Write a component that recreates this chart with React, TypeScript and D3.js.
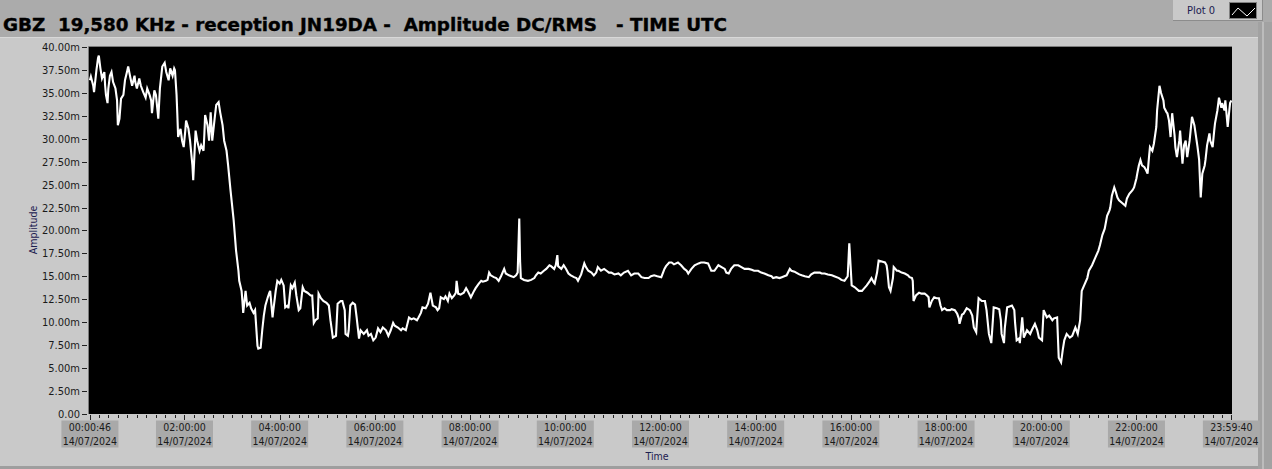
import React from "react";
import * as d3 from "d3";

// ---- data: amplitude (mV) vs time (minutes after 00:00 UTC, 14/07/2024) ----
const segNight: [number, number][] = [
  [0.77,36.4],[2,36.8],[5,35.8],[6,35.1],[9,37.5],[11,38.8],[12,39.1],[14,37.7],[16,36.6],[19,37.3],[20,35.8],[21,34.8],[23,33.9],[24,35.5],[26,36.9],[28,37.3],[30,36.2],[33,35.5],[35,34.2],[36,31.5],[38,32.2],[40,34.4],[43,34.8],[45,36.4],[48,37.5],[49,37.9],[52,36.6],[54,35.8],[57,36.9],[58,36.2],[60,35.5],[63,36.6],[65,35.8],[68,35.1],[71,34.5],[73,35.5],[76,34.8],[78,34.2],[79,32.8],[82,35.3],[84,34.8],[87,32.2],[89,35.5],[92,37.9],[95,38.3],[97,37.3],[100,36.4],[102,37.7],[105,36.9],[107,37.7],[108,37.5],[110,34.8],[111,32.6],[112,30.2],[115,31.1],[117,29.8],[119,29.1],[121,30.9],[122,32.0],[125,31.1],[127,29.8],[130,27.1],[131,25.5],[134,30.9],[136,29.8],[139,28.7],[141,29.3],[144,28.7],[145,30.4],[146,32.6],[149,31.5],[151,29.8],[153,32.9],[155,29.8],[158,32.2],[160,33.7],[163,34.0],[165,32.9],[168,31.5],[170,29.8],[173,28.7],[175,27.1],[178,24.4],[182,21.1],[185,17.8],[188,15.6],[189,14.5],[192,13.4],[193,12.3],[194,11.0],[197,13.4],[199,11.8],[202,12.1],[204,11.5],[207,11.0],[209,11.3],[212,7.4],[213,7.1],[216,7.2],[218,9.1],[220,10.7],[222,11.8],[225,12.7],[227,13.2],[228,13.4],[231,10.5],[232,11.3],[235,13.4],[237,14.5],
];
const segMorning: [number, number][] = [
  [240,14.2],[242,14.6],[245,14.0],[247,11.6],[250,11.8],[251,11.5],[254,14.0],[256,13.7],[259,14.3],[261,12.9],[264,11.3],[266,11.5],[269,13.8],[271,13.4],[275,13.2],[279,12.9],[281,12.9],[283,9.9],[285,10.2],[288,10.4],[289,13.1],[292,12.6],[295,12.3],[299,12.1],[302,11.8],[304,10.2],[307,8.3],[311,8.5],[313,12.0],[317,12.3],[319,12.3],[322,11.3],[323,8.7],[326,8.5],[327,9.1],[329,11.8],[332,12.1],[335,11.9],[337,10.5],[340,8.2],[342,9.1],[346,8.7],[350,9.1],[352,8.5],[355,8.7],[358,8.0],[361,8.3],[364,9.3],[367,8.9],[370,9.4],[374,9.1],[377,8.5],[380,9.1],[383,9.9],[385,9.6],[389,9.4],[393,9.1],[395,9.3],[399,9.1],[403,10.5],[406,10.3],[409,10.4],[413,10.2],[415,10.5],[418,11.0],[420,11.6],[424,11.5],[427,12.0],[430,13.2],[433,11.8],[437,11.6],[439,11.3],[441,11.5],[443,12.7],[447,12.5],[449,12.8],[452,12.3],[454,13.1],[457,12.6],[460,12.9],[462,13.2],[463,14.5],[465,13.1],[468,13.0],[472,13.2],[475,13.7],[477,13.4],
];
const segDay: [number, number][] = [
  [481,12.7],[485,13.4],[487,13.7],[491,14.2],[494,14.5],[496,14.4],[500,14.5],[502,14.6],[504,15.4],[506,15.1],[510,14.9],[513,14.8],[516,14.5],[519,15.0],[523,15.8],[525,15.3],[529,15.1],[532,15.0],[535,14.9],[538,15.1],[540,15.4],[542,21.3],[543,16.7],[544,14.8],[548,14.6],[553,14.5],[557,14.6],[561,14.8],[563,15.1],[566,15.4],[569,15.3],[573,15.6],[576,15.8],[580,16.2],[582,16.1],[586,15.8],[588,16.2],[590,17.3],[591,16.1],[595,15.8],[598,16.2],[601,15.8],[604,15.3],[607,15.1],[611,14.9],[614,14.8],[616,14.5],[620,15.2],[624,16.4],[626,16.0],[629,15.6],[633,15.4],[636,15.1],[639,15.4],[641,16.0],[645,15.6],[649,15.8],[652,15.6],[655,15.4],[658,15.4],[662,15.2],[667,15.3],[670,15.1],[674,15.4],[679,15.6],[683,15.1],[687,15.3],[692,15.3],[696,14.9],[700,14.8],[705,14.8],[708,15.0],[712,15.1],[716,15.0],[721,14.9],[725,15.8],[727,16.1],[731,16.5],[734,16.5],[737,16.3],[742,16.5],[746,16.2],[750,15.8],[753,15.6],[755,15.3],[759,15.8],[763,16.2],[768,16.4],[771,16.5],[775,16.5],[780,16.4],[784,15.6],[788,15.6],[793,16.2],[797,16.0],[801,15.8],[803,15.4],[806,15.3],[809,15.8],[813,16.2],[818,16.2],[822,16.0],[826,15.8],[831,15.8],[835,15.7],
];
const segAfternoon: [number, number][] = [
  [838,15.6],[843,15.6],[847,15.4],[851,15.3],[856,15.1],[860,15.0],[862,14.8],[866,14.9],[870,14.8],[873,14.9],[876,15.0],[879,15.1],[883,15.8],[885,15.6],[889,15.5],[891,15.4],[895,15.2],[898,15.1],[902,15.0],[907,14.9],[910,15.2],[914,15.4],[918,15.4],[921,15.4],[923,15.3],[927,15.3],[931,15.2],[936,15.1],[939,15.0],[945,14.8],[948,14.6],[952,14.5],[956,15.0],[958,18.6],[960,15.6],[961,14.0],[965,13.8],[970,13.4],[974,13.4],[977,13.7],[980,14.0],[984,14.5],[986,14.8],[989,14.3],[990,14.2],[993,15.4],[995,16.7],[999,16.6],[1003,16.5],[1005,16.2],[1006,15.6],[1008,13.8],[1010,13.4],[1013,14.8],[1014,16.0],[1018,15.6],[1020,15.6],[1024,15.4],[1028,15.3],[1032,15.1],[1034,14.9],[1037,14.8],[1038,14.5],[1039,12.3],[1042,12.9],[1046,13.2],[1049,13.1],[1053,13.1],[1056,12.9],[1058,12.7],[1059,11.6],[1062,12.3],[1065,12.7],[1068,12.6],[1071,12.6],[1073,11.8],[1075,11.3],[1078,11.5],[1081,11.3],[1085,11.3],[1087,11.4],[1091,11.3],[1094,10.9],[1096,10.4],[1097,9.8],[1100,10.8],[1102,10.9],[1106,11.5],[1110,11.3],[1113,10.7],[1115,9.4],[1118,8.9],[1119,10.2],[1121,12.6],[1125,12.3],[1129,12.3],[1131,11.3],[1134,8.7],[1137,7.7],[1139,10.2],[1140,11.6],[1144,11.5],[1147,11.4],[1149,10.2],[1150,8.7],[1153,7.7],[1154,9.3],[1157,11.6],[1160,11.7],[1163,11.8],[1166,11.3],[1167,9.9],[1169,8.0],[1172,8.2],[1173,7.7],[1176,10.5],[1178,8.3],[1182,9.1],[1186,8.7],[1188,9.1],[1192,9.8],[1195,9.1],[1197,8.3],
];
const segEvening: [number, number][] = [
  [1201,8.0],[1203,11.3],[1207,10.5],[1210,10.7],[1214,10.2],[1216,10.4],[1220,10.5],[1222,6.1],[1225,5.6],[1227,6.9],[1229,8.0],[1232,8.7],[1236,8.3],[1239,8.5],[1243,9.4],[1246,8.7],[1249,10.2],[1251,13.4],[1255,14.2],[1258,14.8],[1260,15.6],[1264,16.2],[1268,17.0],[1272,17.8],[1274,18.4],[1277,19.5],[1280,20.2],[1283,21.6],[1286,22.2],[1287,22.5],[1289,23.8],[1292,24.7],[1294,24.2],[1296,23.6],[1298,23.3],[1302,23.0],[1306,22.7],[1308,23.5],[1311,24.0],[1315,24.4],[1317,24.7],[1320,25.7],[1321,26.2],[1323,27.1],[1325,27.7],[1327,27.1],[1330,26.9],[1332,26.6],[1334,26.2],[1336,28.2],[1337,29.1],[1340,28.7],[1342,29.5],[1345,31.3],[1346,33.1],[1349,35.8],[1351,35.0],[1354,34.2],[1355,33.4],[1358,32.9],[1359,32.8],[1361,32.0],[1363,30.2],[1365,32.8],[1368,30.4],[1369,29.1],[1371,28.0],[1374,29.8],[1375,30.9],[1378,27.3],[1380,29.3],[1382,29.8],[1384,28.0],[1387,29.8],[1390,32.4],[1393,31.5],[1394,30.9],[1397,29.1],[1399,27.7],[1401,23.6],[1403,26.2],[1406,27.1],[1407,27.7],[1409,29.3],[1412,30.6],[1413,29.8],[1416,29.1],[1418,30.9],[1419,31.7],[1422,33.1],[1424,34.5],[1427,33.4],[1428,33.9],[1431,33.1],[1432,34.2],[1435,31.3],[1437,33.1],[1438,33.9],[1439.67,34.2],
];

const xStart = 0.7667; // 00:00:46
const xEnd = 1439.667; // 23:59:40
const xMajorTicks = [0.7667, 120, 240, 360, 480, 600, 720, 840, 960, 1080, 1200, 1320, 1439.667];
const xMajorLabels = ["00:00:46", "02:00:00", "04:00:00", "06:00:00", "08:00:00", "10:00:00", "12:00:00", "14:00:00", "16:00:00", "18:00:00", "20:00:00", "22:00:00", "23:59:40"];
const dateLabel = "14/07/2024";
const yTicks = [0, 2.5, 5, 7.5, 10, 12.5, 15, 17.5, 20, 22.5, 25, 27.5, 30, 32.5, 35, 37.5, 40];
const titleText = "GBZ  19,580 KHz - reception JN19DA -  Amplitude DC/RMS   - TIME UTC";

const FONT = "Tahoma, 'DejaVu Sans Condensed', 'Liberation Sans', sans-serif";

export default function App() {
  const W = 1272, H = 469;
  const plotL = 89, plotR = 1232, plotT = 47, plotB = 414;
  const x = d3.scaleLinear().domain([xStart, xEnd]).range([89.9, 1231.4]);
  const y = d3.scaleLinear().domain([0, 40]).range([413.6, 47.3]);
  const data = [...segNight, ...segMorning, ...segDay, ...segAfternoon, ...segEvening];
  const line = d3.line<[number, number]>().x(d => x(d[0])).y(d => y(d[1]));
  const minor = d3.range(12, 1440, 12).filter(m => m % 120 !== 0);

  return (
    <svg width={W} height={H} style={{ position: "absolute", left: 0, top: 0 }} fontFamily={FONT}>
      <rect x={0} y={0} width={W} height={H} fill="#ababab" />
      {/* main panel */}
      <rect x={0} y={37} width={1258} height={429} fill="#c9c9c9" />
      <line x1={0} y1={37.5} x2={1258} y2={37.5} stroke="#d8d8d8" />
      {/* right strip */}
      <rect x={1258} y={22} width={14} height={H - 22} fill="#a2a2a2" />
      <rect x={1262} y={22} width={2} height={H - 22} fill="#bcbcbc" />
      {/* bottom strip */}
      <rect x={0} y={466} width={1258} height={3} fill="#9e9e9e" />
      {/* legend */}
      <rect x={1173} y={0} width={89} height={20} fill="#c9c9c9" />
      <line x1={1173} y1={20.5} x2={1262} y2={20.5} stroke="#8c8c8c" />
      <line x1={1262.5} y1={0} x2={1262.5} y2={21} stroke="#8c8c8c" />
      <text x={1187} y={14} fontSize={11} fill="#1c2050">Plot 0</text>
      <rect x={1229.5} y={2.5} width={27} height={16} fill="#000" stroke="#808080" />
      <polyline points="1232,15 1238,8 1247,16 1255,8" fill="none" stroke="#fff" strokeWidth={1} />
      {/* title */}
      <text x={3} y={30.5} fontSize={18} fontWeight="bold" fill="#000" stroke="#000" strokeWidth={0.35} textLength={724} lengthAdjust="spacingAndGlyphs" style={{ whiteSpace: "pre" }}>{titleText}</text>
      {/* plot area */}
      <rect x={plotL} y={plotT} width={plotR - plotL} height={plotB - plotT} fill="#000" />
      <line x1={plotL - 0.5} y1={plotT - 0.5} x2={plotR} y2={plotT - 0.5} stroke="#7c7c7c" />
      <line x1={plotL - 0.5} y1={plotT - 0.5} x2={plotL - 0.5} y2={plotB} stroke="#7c7c7c" />
      <defs>
        <clipPath id="pc"><rect x={plotL} y={plotT} width={plotR - plotL} height={plotB - plotT} /></clipPath>
      </defs>
      <path d={line(data) || ""} fill="none" stroke="#fff" strokeWidth={2.1} strokeLinejoin="miter" clipPath="url(#pc)" />
      {/* y axis */}
      {yTicks.map(t => (
        <g key={"y" + t}>
          <line x1={82} x2={87} y1={Math.round(y(t)) + 0.5} y2={Math.round(y(t)) + 0.5} stroke="#222" />
          <text x={80} y={Math.round(y(t)) + 4} fontSize={11} textAnchor="end" fill="#1a1a1a">{t === 0 ? "0.00" : t.toFixed(2) + "m"}</text>
        </g>
      ))}
      <text transform="translate(37,230) rotate(-90)" fontSize={10.5} textAnchor="middle" fill="#1c2050">Amplitude</text>
      {/* x axis */}
      {minor.map(m => (
        <line key={"m" + m} x1={Math.round(x(m)) + 0.5} x2={Math.round(x(m)) + 0.5} y1={415} y2={418} stroke="#222" />
      ))}
      {xMajorTicks.map((t, i) => {
        const cx = x(t);
        return (
          <g key={"x" + i}>
            <line x1={Math.round(cx) + 0.5} x2={Math.round(cx) + 0.5} y1={415} y2={420} stroke="#222" />
            <rect x={cx - 28.5} y={420.5} width={57} height={27} fill="#a9a9a9" />
            <text x={cx} y={431} fontSize={10.5} textAnchor="middle" fill="#1a1a1a">{xMajorLabels[i]}</text>
            <text x={cx} y={444.5} fontSize={10.5} textAnchor="middle" fill="#1a1a1a">{dateLabel}</text>
          </g>
        );
      })}
      <text x={657} y={460} fontSize={10.5} textAnchor="middle" fill="#1c2050">Time</text>
    </svg>
  );
}
